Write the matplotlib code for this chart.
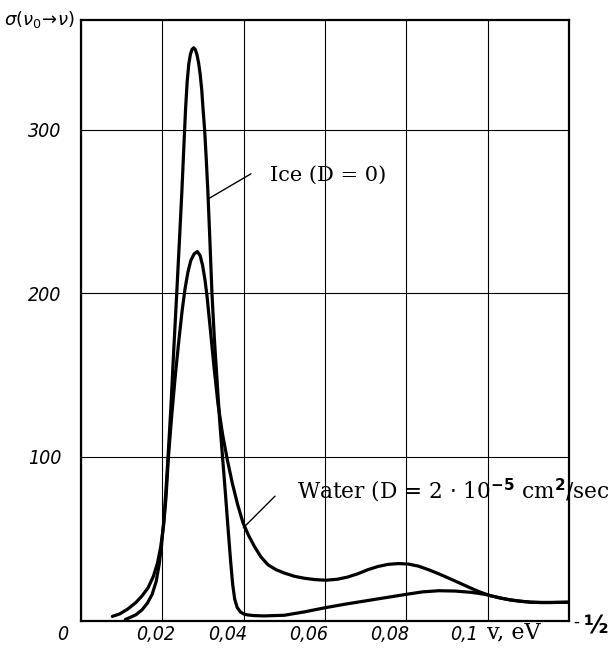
import matplotlib
matplotlib.use('Agg')
import matplotlib.pyplot as plt
import matplotlib.transforms as mtransforms

# sigma(v0 -> v) curves
ice_x = [0.0109, 0.0120, 0.0135, 0.0150, 0.0163, 0.0175, 0.0185, 0.0192, 0.0198, 0.0204,
         0.0209, 0.0214, 0.0221, 0.0228, 0.0235, 0.0242, 0.0248, 0.0253, 0.0257, 0.0261,
         0.0265, 0.0269, 0.0273, 0.0277, 0.0281, 0.0285, 0.0289, 0.0293, 0.0297, 0.0300,
         0.0304, 0.0308, 0.0312, 0.0317, 0.0322, 0.0328, 0.0335, 0.0341, 0.0348, 0.0355,
         0.0362, 0.0368, 0.0373, 0.0378, 0.0384, 0.0392, 0.0400, 0.0410, 0.0425, 0.0450,
         0.050, 0.055, 0.060, 0.065, 0.070, 0.075, 0.080, 0.084, 0.088, 0.092,
         0.096, 0.0993, 0.103, 0.1055, 0.108, 0.1105, 0.113, 0.1155, 0.118, 0.120]
ice_y = [0.6, 1.8, 3.5, 6.5, 10.5, 16, 24, 34, 46, 62,
         80, 100, 130, 165, 198, 232, 262, 290, 312, 329,
         340, 346, 349, 350, 349, 346, 341, 334, 324, 313,
         300, 282, 262, 232, 200, 172, 145, 122, 100, 78,
         55, 36, 22, 13, 8, 5.2, 4, 3.4, 3, 2.8,
         3.2, 5.3, 7.8, 10, 12, 14, 16, 17.5, 18.2, 18,
         17.2, 16, 13.8, 12.6, 11.8, 11.2, 11, 11, 11.1, 11.2]

water_x = [0.0077, 0.0095, 0.0115, 0.0135, 0.0150, 0.0165, 0.0178, 0.0188, 0.0196, 0.0203,
           0.0209, 0.0215, 0.0223, 0.0232, 0.0241, 0.0249, 0.0256, 0.0263, 0.0270, 0.0278,
           0.0286, 0.0293, 0.0299, 0.0305, 0.0310, 0.0318, 0.0327, 0.0337, 0.0348, 0.0360,
           0.0372, 0.0385, 0.0398, 0.0412, 0.0427, 0.0442, 0.046, 0.048, 0.050, 0.0525,
           0.055, 0.0575, 0.0602, 0.063, 0.0655, 0.068, 0.0705, 0.073, 0.0755, 0.078,
           0.0805, 0.083, 0.0855, 0.088, 0.0905, 0.093, 0.0955, 0.098, 0.1005, 0.103,
           0.1055, 0.108, 0.1105, 0.113, 0.1155, 0.118, 0.120]
water_y = [2.5, 4, 7, 11, 15, 20, 27, 35, 45, 58,
           75, 100, 125, 150, 172, 190, 203, 213, 220, 224,
           225.5, 223, 217, 208, 198, 178, 155, 132, 114, 98,
           84, 71, 60, 52, 45, 39, 34, 31, 29, 27,
           25.8, 25, 24.6, 25.2, 26.5, 28.5, 31, 33, 34.3, 34.8,
           34.5, 33.2, 31, 28.5, 25.8, 23, 20.2, 17.5, 15.3, 13.8,
           12.6, 11.8, 11.2, 11, 11, 11.1, 11.2]

xticks = [0, 0.02, 0.04, 0.06, 0.08, 0.1]
xtick_labels = ['0', '0,02', '0,04', '0,06', '0,08', '0,1']
yticks = [100, 200, 300]
ytick_labels = ['100', '200', '300']

W, H = 610, 648
fig = plt.figure(figsize=(W / 100, H / 100), dpi=100)
ax = fig.add_axes([81 / W, (H - 620.5) / H, 488 / W, 600.5 / H])
ax.set_xlim(0, 0.12)
ax.set_ylim(0, 367)

tick_font = dict(family='DejaVu Sans', stretch='condensed', style='italic', size=14)

ax.set_xticks(xticks)
ax.set_xticklabels(xtick_labels, ha='right', **tick_font)
ax.set_yticks(yticks)
ax.set_yticklabels(ytick_labels, **tick_font)
ax.tick_params(length=0, pad=3)
ax.tick_params(axis='y', pad=14)
ax.grid(True, color='black', lw=0.8)
for s in ax.spines.values():
    s.set_linewidth(1.6)

# the printed labels sit a bit irregularly under the grid lines
shifts = [-13, 13, 3, 3, 3, -10]
for lab, dx in zip(ax.get_xticklabels(), shifts):
    lab.set_transform(lab.get_transform() + mtransforms.ScaledTranslation(dx / 100, 0, fig.dpi_scale_trans))

ax.plot(ice_x, ice_y, color='black', lw=2.3, solid_capstyle='round')
ax.plot(water_x, water_y, color='black', lw=2.3, solid_capstyle='round')

serif = ['DejaVu Serif']
# leader lines and labels
ax.annotate('', xy=(0.0315, 258), xytext=(0.0418, 273),
            arrowprops=dict(arrowstyle='-', color='black', lw=1.0, shrinkA=0, shrinkB=0))
ax.text(0.0465, 272, 'Ice (D = 0)', va='center', ha='left', fontsize=15, family=serif)
ax.annotate('', xy=(0.0399, 56.6), xytext=(0.0477, 76),
            arrowprops=dict(arrowstyle='-', color='black', lw=1.0, shrinkA=0, shrinkB=0))
ax.text(0.0532, 79, r'Water (D = 2 $\cdot$ 10$^{\mathbf{-5}}$ cm$^{\mathbf{2}}$/sec',
        va='center', ha='left', fontsize=15.6, family=serif, clip_on=False)

fig.text(4 / W, 1 - 20 / H, r'$\sigma(\nu_0\!\rightarrow\!\nu)$', fontsize=13,
         style='italic', va='center', ha='left')
fig.text(487 / W, 1 - 632 / H, 'v, eV', fontsize=16, family=serif, va='center', ha='left')
fig.text(573 / W, 1 - 622 / H, '-', fontsize=12, va='center', ha='left')
fig.text(584 / W, 1 - 627 / H, '½', fontsize=17, weight='bold', va='center', ha='left')

fig.savefig('out.png', dpi=100)
